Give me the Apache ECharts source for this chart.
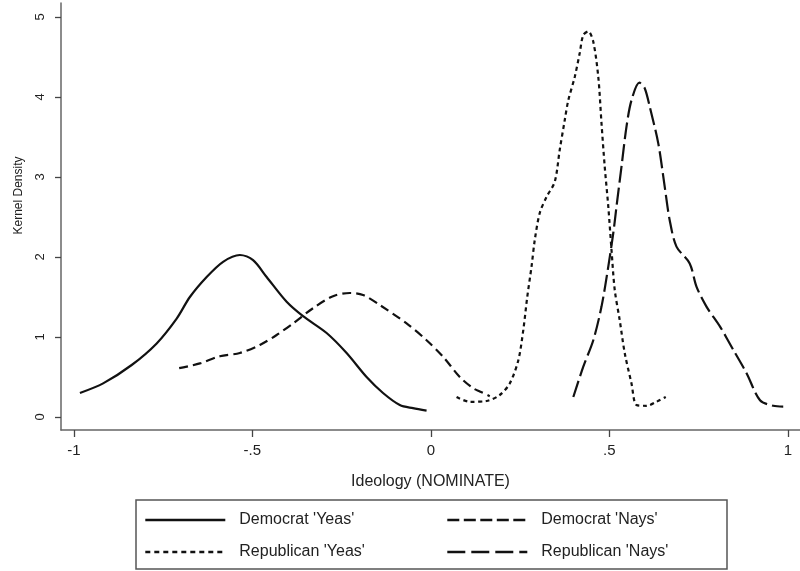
<!DOCTYPE html>
<html>
<head>
<meta charset="utf-8">
<script src="https://cdn.jsdelivr.net/npm/echarts@6/dist/echarts.min.js"></script>
<style>
  html, body { margin: 0; padding: 0; background: #fff; }
  #chart { width: 800px; height: 571px; }
</style>
</head>
<body>
<div id="chart"></div>
<script>
// 刻度
const xTicks = [-1, -0.5, 0, 0.5, 1];
const yTicks = [0, 1, 2, 3, 4, 5];

// 各曲线 [ideology, density]
const demYeas = [
  [-0.983, 0.30], [-0.918, 0.42], [-0.838, 0.65], [-0.768, 0.92], [-0.712, 1.23],
  [-0.675, 1.50], [-0.628, 1.75], [-0.582, 1.94], [-0.535, 2.025], [-0.498, 1.96],
  [-0.460, 1.75], [-0.404, 1.44], [-0.358, 1.26], [-0.292, 1.05], [-0.236, 0.80],
  [-0.180, 0.50], [-0.134, 0.30], [-0.087, 0.15], [-0.050, 0.11], [-0.012, 0.08]
];
const demNays = [
  [-0.705, 0.61], [-0.647, 0.67], [-0.591, 0.76], [-0.535, 0.80], [-0.479, 0.90],
  [-0.432, 1.025], [-0.386, 1.17], [-0.330, 1.36], [-0.274, 1.51], [-0.227, 1.55],
  [-0.190, 1.525], [-0.143, 1.40], [-0.068, 1.17], [-0.012, 0.96], [0.035, 0.75],
  [0.081, 0.50], [0.118, 0.36], [0.137, 0.32], [0.165, 0.26]
];
const repYeas = [
  [0.072, 0.25], [0.109, 0.19], [0.156, 0.20], [0.193, 0.275], [0.221, 0.42],
  [0.245, 0.71], [0.259, 1.09], [0.270, 1.50], [0.282, 1.88], [0.291, 2.21],
  [0.305, 2.55], [0.324, 2.75], [0.347, 2.94], [0.361, 3.34], [0.375, 3.71],
  [0.385, 3.96], [0.403, 4.25], [0.417, 4.55], [0.427, 4.775], [0.441, 4.82],
  [0.455, 4.69], [0.469, 4.25], [0.478, 3.67], [0.487, 3.13], [0.497, 2.63],
  [0.506, 2.09], [0.515, 1.59], [0.529, 1.21], [0.543, 0.80], [0.562, 0.42],
  [0.576, 0.15], [0.604, 0.14], [0.632, 0.19], [0.658, 0.25]
];
const repNays = [
  [0.399, 0.25], [0.427, 0.63], [0.455, 0.96], [0.478, 1.38], [0.497, 1.88],
  [0.511, 2.30], [0.520, 2.63], [0.534, 3.13], [0.548, 3.63], [0.562, 3.96],
  [0.584, 4.18], [0.599, 4.11], [0.613, 3.88], [0.637, 3.42], [0.655, 2.88],
  [0.669, 2.46], [0.688, 2.13], [0.725, 1.92], [0.744, 1.63], [0.772, 1.38],
  [0.810, 1.13], [0.847, 0.84], [0.884, 0.55], [0.922, 0.21], [0.959, 0.14],
  [0.987, 0.13]
];

const font = 'Liberation Sans, Arial, sans-serif';
const ink = '#111';

let myChart = echarts.init(document.getElementById('chart'), null, { renderer: 'canvas' });

function line(name, data, type) {
  return {
    name: name,
    type: 'line',
    data: data,
    smooth: 0.3,
    symbol: 'none',
    lineStyle: { color: ink, width: 2.2, type: type },
    itemStyle: { color: ink },
    emphasis: { disabled: true }
  };
}

// 图例（两列）
function legendCol(left, items) {
  return {
    left: left,
    top: 512,
    padding: 0,
    orient: 'vertical',
    itemWidth: 80,
    itemHeight: 14,
    itemGap: 16,
    selectedMode: false,
    itemStyle: { opacity: 0, borderWidth: 0 },
    textStyle: { fontFamily: font, fontSize: 16, color: '#222', lineHeight: 14, padding: [0, 0, 0, 9] },
    data: items.map(function (it) {
      return { name: it[0], lineStyle: { color: ink, width: 2.6, type: it[1] } };
    })
  };
}

let option = {
  backgroundColor: '#fff',
  animation: false,
  grid: { left: 61, right: 0, top: 3, bottom: 141 },
  xAxis: {
    type: 'value',
    min: -1.036,
    max: 1.034,
    name: 'Ideology (NOMINATE)',
    nameLocation: 'middle',
    nameGap: 44,
    nameTextStyle: { fontFamily: font, fontSize: 16, color: '#222' },
    axisLine: { onZero: false, lineStyle: { color: '#666', width: 1.5 } },
    axisTick: { customValues: xTicks, length: 7, lineStyle: { color: '#444', width: 1.3 } },
    axisLabel: {
      customValues: xTicks,
      margin: 13,
      fontFamily: font,
      fontSize: 15,
      color: '#222',
      formatter: function (v) { return v === 0 ? '0' : String(v).replace('0.', '.'); }
    },
    splitLine: { show: false }
  },
  yAxis: {
    type: 'value',
    min: -0.1625,
    max: 5.175,
    name: 'Kernel Density',
    nameLocation: 'middle',
    nameGap: 36,
    nameTextStyle: { fontFamily: font, fontSize: 12, color: '#222', padding: [0, 0, 0, 42] },
    axisLine: { show: true, onZero: false, lineStyle: { color: '#666', width: 1.5 } },
    axisTick: { show: true, customValues: yTicks, length: 6, lineStyle: { color: '#444', width: 1.3 } },
    axisLabel: {
      customValues: yTicks,
      rotate: 90,
      margin: 14,
      fontFamily: font,
      fontSize: 13,
      color: '#222'
    },
    splitLine: { show: false }
  },
  legend: [
    legendCol(144, [["Democrat 'Yeas'", 'solid'], ["Republican 'Yeas'", [5, 4]]]),
    legendCol(446, [["Democrat 'Nays'", [12, 4.5]], ["Republican 'Nays'", [18, 6]]])
  ],
  graphic: [
    {
      type: 'rect',
      shape: { x: 136, y: 500, width: 591, height: 69 },
      style: { fill: 'none', stroke: '#555', lineWidth: 1.5 },
      silent: true
    }
  ],
  series: [
    line("Democrat 'Yeas'", demYeas, 'solid'),
    line("Democrat 'Nays'", demNays, [9, 5]),
    line("Republican 'Yeas'", repYeas, [4, 3.5]),
    line("Republican 'Nays'", repNays, [17, 5])
  ]
};
myChart.setOption(option);
</script>
</body>
</html>
